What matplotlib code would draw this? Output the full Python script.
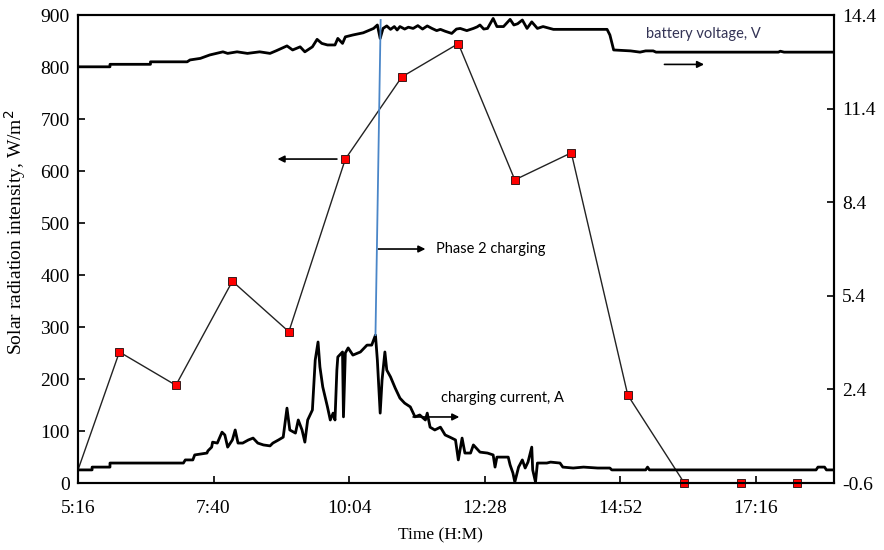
import matplotlib.pyplot as plt

plt.rcParams["axes.unicode_minus"] = False

# time axis in minutes after midnight
x_ticks = [316, 460, 604, 748, 892, 1036]
x_labels = ["5:16", "7:40", "10:04", "12:28", "14:52", "17:16"]
left_ticks = [0, 100, 200, 300, 400, 500, 600, 700, 800, 900]
right_ticks = [-0.6, 2.4, 5.4, 8.4, 11.4, 14.4]

# solar radiation (W/m2), hourly readings
solar_t = [316, 360, 420, 480, 540, 600, 660, 720, 780, 840, 900, 960, 1020, 1080]
solar_w = [25, 252, 188, 388, 291, 623, 781, 845, 583, 635, 169, 0, 0, 0]

# battery voltage (V)
volt_t = [316, 350, 350, 393, 393, 432, 435, 446, 456, 470, 475, 485, 496, 509,
          520, 527, 538, 544, 552, 557, 565, 570, 575, 581, 589, 592, 597, 600,
          608, 619, 630, 634, 637, 640, 644, 648, 652, 655, 658, 663, 667, 672,
          677, 682, 687, 692, 697, 701, 706, 713, 718, 722, 729, 736, 740, 743,
          747, 751, 757, 761, 768, 775, 779, 783, 788, 793, 798, 804, 810, 821,
          850, 878, 881, 885, 903, 913, 919, 927, 930, 1060, 1062, 1066, 1119]
volt_v = [12.74, 12.74, 12.82, 12.82, 12.90, 12.90, 12.96, 13.01, 13.12, 13.22,
          13.17, 13.22, 13.17, 13.22, 13.17, 13.26, 13.41, 13.28, 13.38, 13.22,
          13.38, 13.62, 13.49, 13.44, 13.44, 13.65, 13.49, 13.70, 13.76, 13.83,
          13.97, 14.08, 13.65, 13.97, 14.05, 13.94, 14.03, 13.92, 14.03, 13.95,
          14.01, 13.97, 14.06, 13.95, 14.05, 13.97, 13.90, 13.94, 13.88, 13.81,
          13.95, 13.97, 13.90, 13.97, 14.02, 14.08, 13.95, 13.97, 14.29, 14.03,
          14.03, 14.26, 14.08, 14.12, 14.24, 13.97, 14.18, 13.97, 14.03, 13.94,
          13.94, 13.94, 13.76, 13.28, 13.25, 13.21, 13.25, 13.25, 13.21, 13.21,
          13.24, 13.21, 13.21]

# charging current (A)
curr_t = [316, 331, 331, 350, 350, 428, 430, 438, 440, 453, 454, 458, 459, 464,
          469, 472, 475, 480, 483, 486, 491, 497, 502, 507, 513, 520, 523, 529,
          534, 538, 541, 547, 550, 554, 557, 560, 565, 568, 571, 573, 576, 581,
          584, 587, 589, 591, 592, 597, 598, 600, 603, 608, 616, 623, 628, 632,
          634, 637, 639, 642, 644, 648, 653, 658, 663, 669, 674, 679, 685, 687,
          690, 695, 701, 706, 711, 717, 720, 724, 727, 733, 736, 743, 751, 757,
          759, 761, 773, 775, 778, 780, 784, 788, 791, 794, 798, 799, 802, 804,
          814, 818, 828, 831, 842, 853, 868, 881, 883, 919, 921, 923, 1100, 1102,
          1109, 1111, 1119]
curr_a = [-0.18, -0.18, -0.09, -0.09, 0.04, 0.04, 0.14, 0.14, 0.30, 0.36, 0.43,
          0.55, 0.71, 0.68, 1.03, 0.94, 0.55, 0.78, 1.10, 0.68, 0.68, 0.78, 0.84,
          0.68, 0.62, 0.59, 0.68, 0.78, 0.87, 1.80, 1.10, 1.00, 1.42, 1.10, 0.71,
          1.42, 1.74, 3.34, 3.92, 3.12, 2.48, 1.84, 1.42, 1.64, 1.42, 3.02, 3.44,
          3.60, 1.52, 3.57, 3.73, 3.50, 3.60, 3.82, 3.82, 4.14, 3.34, 1.64, 2.70,
          3.60, 3.02, 2.80, 2.44, 2.12, 1.96, 1.84, 1.52, 1.58, 1.42, 1.64, 1.19,
          1.10, 1.19, 0.94, 0.87, 0.78, 0.14, 0.84, 0.36, 0.36, 0.62, 0.39, 0.36,
          0.30, -0.09, 0.23, 0.23, -0.02, -0.28, -0.57, -0.09, 0.14, -0.12, 0.07,
          0.55, -0.18, -0.57, 0.04, 0.04, 0.07, 0.04, -0.09, -0.12, -0.09, -0.12,
          -0.12, -0.18, -0.18, -0.09, -0.18, -0.18, -0.09, -0.09, -0.18, -0.18]

serif = "Liberation Serif"
sans = ["Lato", "DejaVu Sans"]

fig = plt.figure(figsize=(8.84, 5.5), dpi=100)
ax = fig.add_axes([0.0882, 0.1218, 0.8552, 0.8509])
ax2 = ax.twinx()

ax.plot(solar_t, solar_w, color="#222222", lw=1.0, marker="s", markersize=6,
        markerfacecolor="#ff0000", markeredgecolor="#3a1a1a", markeredgewidth=0.7,
        markevery=list(range(1, len(solar_t))), zorder=3, clip_on=False)

ax2.plot(volt_t, volt_v, color="black", lw=2.0)
ax2.plot(curr_t, curr_a, color="black", lw=2.0)
ax2.plot([637.5, 632], [14.24, 4.14], color="#4a86c8", lw=1.3)

ax.set_xlim(316, 1119)
ax.set_ylim(0, 900)
ax2.set_ylim(-0.6, 14.4)
ax.set_xticks(x_ticks)
ax.set_xticklabels(x_labels)
ax.set_yticks(left_ticks)
ax2.set_yticks(right_ticks)
ax2.set_yticklabels([f"{v:.1f}" for v in right_ticks])

for a in (ax, ax2):
    a.tick_params(direction="in", length=5, width=1.2, labelsize=14, pad=6)
    for lab in a.get_xticklabels() + a.get_yticklabels():
        lab.set_fontfamily(serif)
    for s in a.spines.values():
        s.set_linewidth(1.5)
ax.tick_params(axis="x", pad=12)

ax.set_xlabel("Time (H:M)", fontsize=12.5, fontfamily=serif)
ax.xaxis.set_label_coords(0.48, -0.094)
ax.set_ylabel("Solar radiation intensity, W/m$^2$", fontsize=14,
              fontfamily=serif)
ax.yaxis.set_label_coords(-0.066, 0.535)

arrow = dict(arrowstyle="-|>", color="black", lw=1.2, mutation_scale=10)
ax.annotate("", xy=(525, 623), xytext=(594, 623), arrowprops=arrow)
ax.annotate("", xy=(688, 450), xytext=(632, 450), arrowprops=arrow)
ax.text(696, 450, "Phase 2 charging", fontsize=10.5, family=sans, va="center")
ax.annotate("", xy=(724, 127), xytext=(669, 127), arrowprops=arrow)
ax.text(702, 164, "charging current, A", fontsize=10.5, family=sans, va="center")
ax.annotate("", xy=(984, 805), xytext=(936, 805), arrowprops=arrow)
ax.text(919, 864, "battery voltage, V", fontsize=10.5, family=sans, va="center",
        color="#333355")

fig.savefig("out.png", dpi=100)
